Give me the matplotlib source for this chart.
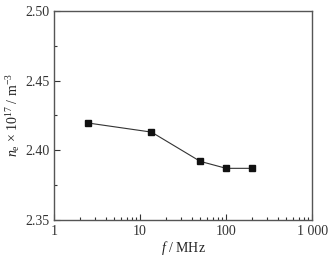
import matplotlib
matplotlib.use("Agg")
import matplotlib.pyplot as plt
from matplotlib.ticker import FixedLocator, FixedFormatter, LogLocator, NullFormatter

plt.rcParams['font.family'] = 'Liberation Serif'
plt.rcParams['mathtext.fontset'] = 'custom'
plt.rcParams['mathtext.rm'] = 'Liberation Serif'
plt.rcParams['mathtext.it'] = 'Liberation Serif:italic'

# data
freq_mhz = [2.5, 13.56, 50, 100, 200]
density = [2.4195, 2.413, 2.392, 2.387, 2.387]

x_ticks = [1, 10, 100, 1000]
x_labels = ['1', '10', '100', '1 000']
y_ticks = [2.35, 2.40, 2.45, 2.50]

fig = plt.figure(figsize=(3.36, 2.59), dpi=100)
ax = fig.add_axes([0.161, 0.151, 0.768, 0.807])

ax.plot(freq_mhz, density, color='#333333', lw=0.8, marker='s',
        markersize=4, markerfacecolor='#111111', markeredgecolor='#111111')

ax.set_xscale('log')
ax.set_xlim(1, 1000)
ax.set_ylim(2.35, 2.50)

ax.xaxis.set_major_locator(FixedLocator(x_ticks))
ax.xaxis.set_major_formatter(FixedFormatter(x_labels))
ax.xaxis.set_minor_locator(LogLocator(base=10, subs=range(2, 10)))
ax.xaxis.set_minor_formatter(NullFormatter())
ax.set_yticks(y_ticks)
ax.set_yticklabels([f'{v:.2f}' for v in y_ticks])
ax.set_yticks([2.375, 2.425, 2.475], minor=True)

ax.tick_params(which='both', direction='in', top=False, right=False,
               labelsize=10, colors='#333333', width=0.8)
ax.tick_params(which='major', length=4)
ax.tick_params(which='minor', length=2)
for s in ax.spines.values():
    s.set_color('#555555')
    s.set_linewidth(1.0)

ax.set_xlabel('$f$ / MHz', fontsize=10, color='#222222', labelpad=1)
ax.set_ylabel('$n_\\mathrm{e}$ × 10$^{17}$ / m$^{-3}$', fontsize=10,
              color='#222222', labelpad=2)

fig.savefig('out.png', dpi=100)
